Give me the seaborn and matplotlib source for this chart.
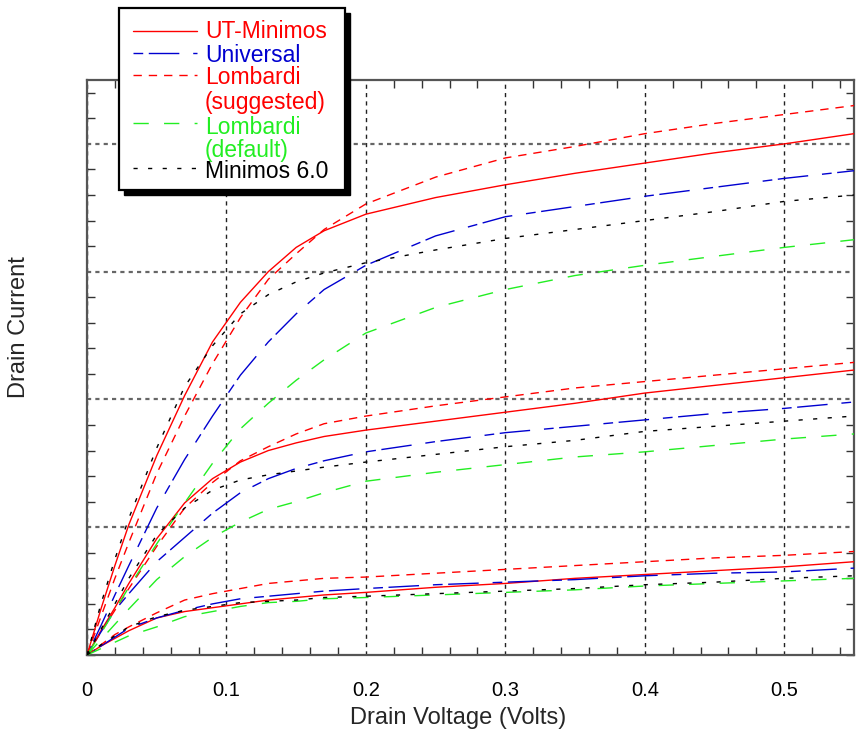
import numpy as np
import pandas as pd
import matplotlib
matplotlib.use("Agg")
import matplotlib.pyplot as plt
import seaborn as sns
from matplotlib.patches import Rectangle
from matplotlib.lines import Line2D
from matplotlib.ticker import MultipleLocator

sns.set_style("white")
plt.rcParams['font.family'] = ['Liberation Sans', 'DejaVu Sans']
plt.rcParams['lines.scale_dashes'] = False

# ---------------- data ----------------
vd = [0, 0.01, 0.02, 0.03, 0.05, 0.07, 0.09, 0.11, 0.13, 0.15, 0.17, 0.2,
      0.25, 0.3, 0.35, 0.4, 0.45, 0.5, 0.55]

models = ["UT-Minimos", "Universal", "Lombardi\n(suggested)",
          "Lombardi\n(default)", "Minimos 6.0"]
gates = ["high", "mid", "low"]

ut_hi  = [0, .36, .70, 1.02, 1.56, 2.03, 2.45, 2.76, 3.00, 3.19, 3.32, 3.45, 3.58, 3.68, 3.77, 3.85, 3.93, 4.00, 4.08]
uni_hi = [0, .23, .47, .70, 1.15, 1.53, 1.87, 2.19, 2.45, 2.67, 2.86, 3.05, 3.28, 3.43, 3.51, 3.59, 3.66, 3.73, 3.79]
ls_hi  = [0, .30, .60, .88, 1.42, 1.87, 2.28, 2.64, 2.94, 3.14, 3.33, 3.53, 3.74, 3.89, 3.98, 4.08, 4.16, 4.23, 4.30]
ld_hi  = [0, .17, .35, .53, .87, 1.19, 1.50, 1.77, 1.97, 2.15, 2.31, 2.52, 2.72, 2.86, 2.97, 3.05, 3.12, 3.19, 3.25]
mn_hi  = [0, .40, .75, 1.07, 1.62, 2.10, 2.42, 2.67, 2.82, 2.92, 2.99, 3.07, 3.17, 3.26, 3.33, 3.40, 3.47, 3.55, 3.60]

ut_mid  = [0, .19, .37, .56, .91, 1.19, 1.38, 1.51, 1.60, 1.66, 1.71, 1.76, 1.83, 1.90, 1.97, 2.05, 2.11, 2.17, 2.23]
uni_mid = [0, .18, .35, .48, .73, .92, 1.11, 1.27, 1.38, 1.46, 1.52, 1.59, 1.67, 1.74, 1.79, 1.84, 1.89, 1.93, 1.98]
ls_mid  = [0, .18, .35, .52, .85, 1.15, 1.35, 1.52, 1.63, 1.73, 1.81, 1.87, 1.95, 2.02, 2.09, 2.14, 2.19, 2.24, 2.29]
ld_mid  = [0, .12, .24, .36, .59, .77, .92, 1.04, 1.14, 1.20, 1.27, 1.36, 1.43, 1.49, 1.55, 1.59, 1.64, 1.69, 1.73]
mn_mid  = [0, .20, .40, .60, .94, 1.15, 1.29, 1.37, 1.41, 1.44, 1.47, 1.51, 1.57, 1.63, 1.68, 1.75, 1.79, 1.83, 1.87]

ut_lo  = [0, .07, .13, .19, .29, .34, .37, .40, .43, .45, .47, .49, .53, .56, .60, .63, .66, .69, .73]
uni_lo = [0, .07, .14, .21, .29, .35, .40, .44, .46, .48, .50, .52, .55, .57, .59, .62, .64, .65, .68]
ls_lo  = [0, .08, .16, .22, .33, .43, .48, .52, .56, .58, .60, .61, .64, .67, .70, .73, .76, .78, .81]
ld_lo  = [0, .05, .10, .15, .22, .30, .34, .38, .41, .42, .44, .45, .47, .49, .51, .54, .56, .58, .60]
mn_lo  = [0, .08, .15, .22, .30, .35, .38, .41, .42, .43, .45, .46, .48, .50, .52, .55, .57, .60, .62]

xticks = [0, 0.1, 0.2, 0.3, 0.4, 0.5]
xtick_labels = ["0", "0.1", "0.2", "0.3", "0.4", "0.5"]

series = {
    ("UT-Minimos", "high"): ut_hi, ("UT-Minimos", "mid"): ut_mid, ("UT-Minimos", "low"): ut_lo,
    ("Universal", "high"): uni_hi, ("Universal", "mid"): uni_mid, ("Universal", "low"): uni_lo,
    ("Lombardi\n(suggested)", "high"): ls_hi, ("Lombardi\n(suggested)", "mid"): ls_mid,
    ("Lombardi\n(suggested)", "low"): ls_lo,
    ("Lombardi\n(default)", "high"): ld_hi, ("Lombardi\n(default)", "mid"): ld_mid,
    ("Lombardi\n(default)", "low"): ld_lo,
    ("Minimos 6.0", "high"): mn_hi, ("Minimos 6.0", "mid"): mn_mid, ("Minimos 6.0", "low"): mn_lo,
}

rows = []
for (m, g), ys in series.items():
    for x, y in zip(vd, ys):
        rows.append({"Vd": x, "Id": y, "model": m, "gate": g})
df = pd.DataFrame(rows)

colors = {"UT-Minimos": "#ff0000", "Universal": "#0000d0",
          "Lombardi\n(suggested)": "#ff0000", "Lombardi\n(default)": "#22ee22",
          "Minimos 6.0": "#000000"}
dashes = {"UT-Minimos": "", "Universal": (7, 4, 22, 10),
          "Lombardi\n(suggested)": (6, 5), "Lombardi\n(default)": (11, 11),
          "Minimos 6.0": (3, 7.5)}

# ---------------- figure ----------------
W, H = 860, 738
fig = plt.figure(figsize=(W / 100, H / 100), dpi=100)
L, R, B, T = 87, 854, 655, 80
ax = fig.add_axes([L / W, 1 - B / H, (R - L) / W, (B - T) / H])

sns.lineplot(data=df, x="Vd", y="Id", hue="model", style="model", units="gate",
             estimator=None, sort=False, palette=colors, dashes=dashes,
             hue_order=models, style_order=models, linewidth=1.0,
             legend=False, ax=ax, zorder=3)

ax.set_xlim(0, 0.55)
ax.set_ylim(0, 4.5)
ax.set_xticks(xticks)
ax.set_xticklabels(xtick_labels)
ax.set_yticks([1, 2, 3, 4])
ax.set_yticklabels([])
ax.xaxis.set_minor_locator(MultipleLocator(0.02))
ax.yaxis.set_minor_locator(MultipleLocator(0.2))
ax.tick_params(which="major", length=0, labelsize=14.5, pad=19, colors="black")
ax.tick_params(which="minor", direction="in", length=6, width=1,
               top=True, bottom=True, left=True, right=True, color="#333333")
ax.xaxis.grid(True, linestyle=(0, (3, 3)), color="#222222", linewidth=1.0)
ax.yaxis.grid(True, linestyle=(0, (3, 3)), color="#666666", linewidth=1.6)
for s in ax.spines.values():
    s.set_color("#555555")
    s.set_linewidth(1.6)

ax.set_xlabel("Drain Voltage (Volts)", fontsize=17)
ax.set_ylabel("Drain Current", fontsize=17)
ax.xaxis.set_label_coords((458 - L) / (R - L), (B - 718) / (B - T))
ax.yaxis.set_label_coords((19 - L) / (R - L), (B - 327) / (B - T))
ax.xaxis.label.set_va("center")
ax.yaxis.label.set_va("center")

# ---------------- legend (drawn as box) ----------------
def fx(px):
    return px / W

def fy(py):
    return 1 - py / H

bx0, by0, bx1, by1 = 119, 8, 345, 190
shadow = Rectangle((fx(bx0 + 5), fy(by1 + 5)), fx(bx1 - bx0), (by1 - by0) / H,
                   transform=fig.transFigure, facecolor="black", edgecolor="black",
                   zorder=20)
box = Rectangle((fx(bx0), fy(by1)), fx(bx1 - bx0), (by1 - by0) / H,
                transform=fig.transFigure, facecolor="white", edgecolor="black",
                linewidth=1.6, zorder=21)
fig.add_artist(shadow)
fig.add_artist(box)

handle_y = [31, 53, 75, 123, 168]
text_lines = [[("UT-Minimos", 32)], [("Universal", 55)],
              [("Lombardi", 78), ("(suggested)", 103)],
              [("Lombardi", 127), ("(default)", 150)],
              [("Minimos 6.0", 171)]]
for m, hy, tl in zip(models, handle_y, text_lines):
    ln = Line2D([fx(133), fx(197)], [fy(hy), fy(hy)], transform=fig.transFigure,
                color=colors[m], linewidth=1.0, zorder=22)
    if dashes[m]:
        ln.set_dashes(dashes[m])
    fig.add_artist(ln)
    for txt, ty in tl:
        fig.text(fx(205), fy(ty), txt, color=colors[m], fontsize=16.5,
                 va="center", ha="left", zorder=23)

fig.savefig("out.png", dpi=100)
